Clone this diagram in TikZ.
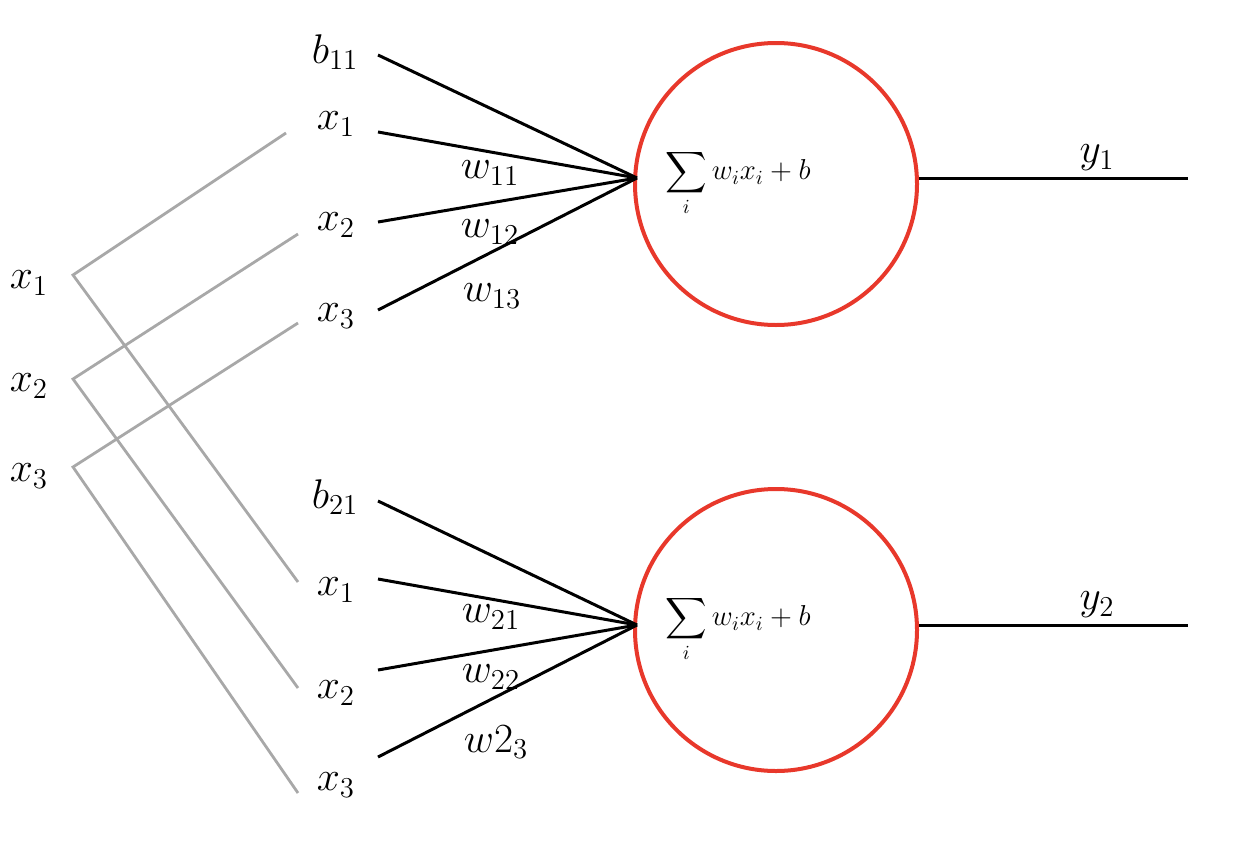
\documentclass[tikz,border=0pt]{standalone}
\usepackage{amsmath}
\usetikzlibrary{positioning}
\definecolor{ringred}{HTML}{E8382B}
\definecolor{wiregray}{HTML}{A8A8A8}

\begin{document}
\begin{tikzpicture}[
        x=0.5pt, y=-0.5pt,
        lbl/.style={font=\fontsize{20.74}{24}\selectfont, inner sep=0pt},
        sumtext/.style={font=\fontsize{14.4}{18}\selectfont, inner sep=0pt},
        neuron/.style={circle, draw=ringred, line width=2pt, inner sep=0pt, minimum size=141pt},
        wire/.style={draw, wiregray, line width=1.4pt},
        link/.style={draw, black, line width=1.5pt}
    ]
        \useasboundingbox (0,0) rectangle (1236,846);

        % Inputs on the left
        \node [lbl] (in1) at (29,283) {$x_1$};
        \node [lbl] (in2) at (29,386) {$x_2$};
        \node [lbl] (in3) at (29,476) {$x_3$};
        \coordinate (fork1) at (73,275);
        \coordinate (fork2) at (73,379);
        \coordinate (fork3) at (73,467);

        % Upper neuron
        \node [neuron] (n1) at (776,184) {};
        \node [sumtext] (sum1) at (738,183) {$\displaystyle\sum_i w_ix_i+b$};
        \coordinate (hub1) at (637,178);
        \coordinate (out1) at (1188,178);
        \node [lbl] (y1) at (1097,158) {$y_1$};
        \node [lbl] (b11) at (335,52) {$b_{11}$};
        \node [lbl] (ua1) at (336,124) {$x_1$};
        \node [lbl] (ua2) at (336,225) {$x_2$};
        \node [lbl] (ua3) at (336,316) {$x_3$};
        \coordinate (ub0) at (378,55);
        \coordinate (ub1) at (378,132);
        \coordinate (ub2) at (378,222);
        \coordinate (ub3) at (378,310);
        \coordinate (ug1) at (286,133);
        \coordinate (ug2) at (298,234);
        \coordinate (ug3) at (298,323);
        \node [lbl] (w11) at (490,173) {$w_{11}$};
        \node [lbl] (w12) at (490,232) {$w_{12}$};
        \node [lbl] (w13) at (492,296) {$w_{13}$};

        % Lower neuron
        \node [neuron] (n2) at (776,630) {};
        \node [sumtext] (sum2) at (738,629) {$\displaystyle\sum_i w_ix_i+b$};
        \coordinate (hub2) at (637,625);
        \coordinate (out2) at (1188,625);
        \node [lbl] (y2) at (1097,605) {$y_2$};
        \node [lbl] (b21) at (335,497) {$b_{21}$};
        \node [lbl] (la1) at (336,590) {$x_1$};
        \node [lbl] (la2) at (336,693) {$x_2$};
        \node [lbl] (la3) at (336,785) {$x_3$};
        \coordinate (lb0) at (378,501);
        \coordinate (lb1) at (378,579);
        \coordinate (lb2) at (378,670);
        \coordinate (lb3) at (378,757);
        \coordinate (lg1) at (298,582);
        \coordinate (lg2) at (298,688);
        \coordinate (lg3) at (298,793);
        \node [lbl] (w21) at (491,617) {$w_{21}$};
        \node [lbl] (w22) at (491,677) {$w_{22}$};
        \node [lbl] (w23) at (496,742) {$w2_3$};

        % Fan-out of the inputs
        \path [wire] (ug1) -- (fork1) -- (lg1);
        \path [wire] (ug2) -- (fork2) -- (lg2);
        \path [wire] (ug3) -- (fork3) -- (lg3);

        % Edges into the neurons
        \path [link] (ub0) -- (hub1);
        \path [link] (ub1) -- (hub1);
        \path [link] (ub2) -- (hub1);
        \path [link] (ub3) -- (hub1);
        \path [link] (lb0) -- (hub2);
        \path [link] (lb1) -- (hub2);
        \path [link] (lb2) -- (hub2);
        \path [link] (lb3) -- (hub2);

        % Outputs
        \path [link] (n1.east |- hub1) -- (out1);
        \path [link] (n2.east |- hub2) -- (out2);
    \end{tikzpicture}
\end{document}
